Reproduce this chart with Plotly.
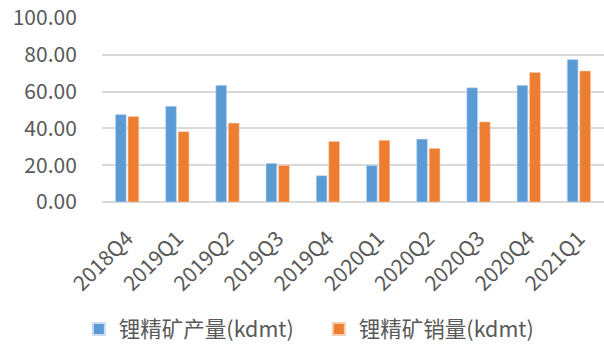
import plotly.graph_objects as go

# Quarterly lithium concentrate output and sales (kdmt)
quarters = ["2018Q4", "2019Q1", "2019Q2", "2019Q3", "2019Q4",
            "2020Q1", "2020Q2", "2020Q3", "2020Q4", "2021Q1"]
production = [47.6, 52.0, 63.4, 21.0, 14.3, 19.9, 34.2, 62.1, 63.4, 77.5]
sales = [46.4, 38.2, 42.9, 19.9, 32.9, 33.5, 29.1, 43.5, 70.4, 71.2]
series_names = ["锂精矿产量(kdmt)", "锂精矿销量(kdmt)"]
y_ticks = [0, 20, 40, 60, 80, 100]

FONT = "Noto Sans CJK SC"
TEXT = "#595959"

fig = go.Figure()
fig.add_trace(go.Bar(x=quarters, y=production, name=series_names[0],
                     marker=dict(color="#5B9BD5", line=dict(color="#C8DDF0", width=0.6))))
fig.add_trace(go.Bar(x=quarters, y=sales, name=series_names[1],
                     marker=dict(color="#ED7D31", line=dict(color="#F8CDB0", width=0.6))))

fig.update_layout(
    width=604, height=345,
    margin=dict(l=102, r=0, t=18, b=143, autoexpand=False),
    paper_bgcolor="white", plot_bgcolor="white",
    barmode="group", bargap=0.5, bargroupgap=0.14,
    font=dict(family=FONT, color=TEXT),
    showlegend=True,
    legend=dict(orientation="h", x=0.432, xanchor="center", y=-0.69, yanchor="middle",
                font=dict(size=21.5, color=TEXT, family=FONT),
                itemsizing="constant", itemwidth=30, traceorder="normal",
                entrywidth=195, borderwidth=0),
)
fig.update_xaxes(
    type="category", tickangle=-45, tickfont=dict(size=21, color=TEXT, family=FONT),
    showgrid=False, showline=False, zeroline=False, automargin=False,
    ticks="outside", ticklen=15, tickcolor="rgba(0,0,0,0)",
)
fig.update_yaxes(
    range=[0, 100], tickvals=y_ticks, tickformat=".2f",
    tickfont=dict(size=21, color=TEXT, family=FONT), automargin=False,
    showgrid=True, gridcolor="#D9D9D9", gridwidth=1.5,
    zeroline=True, zerolinecolor="#D9D9D9", zerolinewidth=1.5,
    showline=False, ticks="outside", ticklen=20, tickcolor="rgba(0,0,0,0)",
)

fig.write_html("out.html")
